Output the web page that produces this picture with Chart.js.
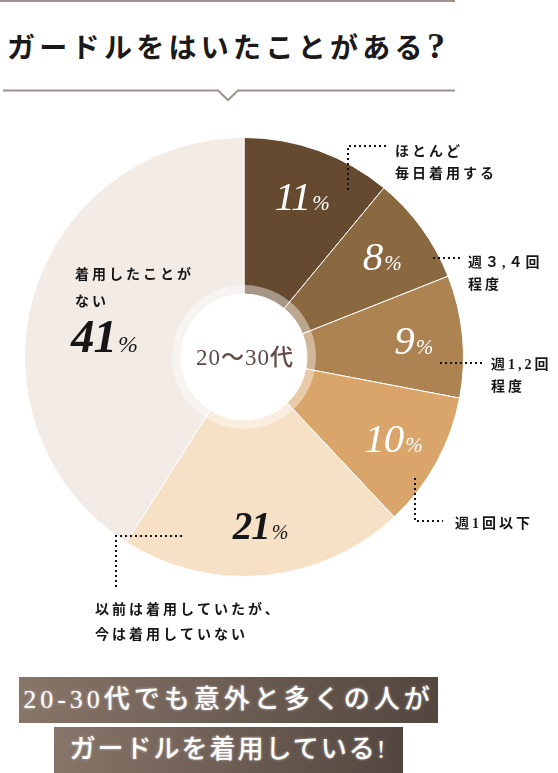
<!DOCTYPE html>
<html lang="ja">
<head>
<meta charset="utf-8">
<script src="https://cdn.jsdelivr.net/npm/chart.js@4"></script>
<style>
  html,body{margin:0;padding:0;background:#fff;}
  body{width:558px;height:773px;position:relative;overflow:hidden;font-family:"Noto Sans CJK JP",sans-serif;}
  #wrap{position:absolute;left:0;top:0;width:558px;height:773px;}
  .title{position:absolute;left:7px;top:27px;font-size:28px;line-height:38px;font-weight:700;letter-spacing:4.3px;color:#1a1a1a;white-space:nowrap;font-family:"Liberation Serif","Noto Sans CJK JP",serif;}
  .title .q{font-size:36px;font-weight:700;letter-spacing:0;}
  .banner{position:absolute;height:46px;background:linear-gradient(to right,#887569,#52463e);color:#fff;font-size:26px;line-height:46px;text-align:center;white-space:nowrap;font-weight:500;font-family:"Liberation Serif","Noto Sans CJK JP",serif;text-shadow:0 0 3px rgba(255,255,255,0.55);}
</style>
</head>
<body>
<svg width="558" height="110" style="position:absolute;left:0;top:0">
  <rect x="0" y="0" width="455" height="2" fill="#9e918e"/>
  <polyline points="3,90.5 218,90.5 228,100 238,90.5 455,90.5" fill="none" stroke="#9e918e" stroke-width="2"/>
</svg>
<div class="title">ガードルをはいたことがある<span class="q">?</span></div>
<div id="wrap"><canvas id="c"></canvas></div>
<div class="banner" style="left:19px;top:677px;width:419px;letter-spacing:4px;">20-30代でも意外と多くの人が</div>
<div class="banner" style="left:54px;top:727px;width:349px;letter-spacing:2px;">ガードルを着用している!</div>
<script>
// ---- data ----
const categories = ['ほとんど毎日着用する','週３,４回程度','週1,2回程度','週1回以下','以前は着用していたが、今は着用していない','着用したことがない'];
const values = [11, 8, 9, 10, 21, 41];
const calloutLines = [
  ['ほとんど','毎日着用する'],
  ['週３,４回','程度'],
  ['週1,2回','程度'],
  ['週1回以下'],
  ['以前は着用していたが、','今は着用していない'],
  ['着用したことが','ない']
];
const centerLabel = '20〜30代';

// ---- styles ----
const sliceColors = ['#654a30','#8a6840','#ae8352','#d9a56b','#f6e1c7','#f2ebe6'];
const pctColors = ['#ffffff','#ffffff','#ffffff','#ffffff','#161616','#161616'];
const pctWeights = ['400','400','400','400','700','700'];
const pctSizes = [41, 41, 41, 41, 39, 47];
// leader lines (polyline points) and text anchor [x, firstLineY] per slice
const leaders = [
  [[348,190],[348,146],[388,146]],
  [[433,258],[462,258]],
  [[440,363],[482,363]],
  [[415,478],[415,521],[443,521]],
  [[182,536],[116,536],[116,587]],
  null
];
const textAnchors = [[395,152],[468,263],[491,365],[455,524],[95,610],[75,275]];

const overlayPlugin = {
  id: 'overlay',
  afterDatasetsDraw(chart) {
    const ctx = chart.ctx;
    const meta = chart.getDatasetMeta(0);
    const a0 = meta.data[0];
    const cx = a0.x, cy = a0.y;
    const inner = a0.innerRadius;
    ctx.save();
    // translucent ring around the hole
    ctx.beginPath();
    ctx.arc(cx, cy, inner + 9, 0, Math.PI * 2);
    ctx.arc(cx, cy, inner, 0, Math.PI * 2, true);
    ctx.fillStyle = 'rgba(255,255,255,0.42)';
    ctx.fill('evenodd');
    // center label
    ctx.fillStyle = '#5f4944';
    ctx.font = '500 23px "Liberation Serif","Noto Sans CJK JP",serif';
    ctx.letterSpacing = '1px';
    ctx.textAlign = 'center';
    ctx.textBaseline = 'middle';
    ctx.fillText(centerLabel, cx + 1, cy + 2);

    // leaders
    ctx.strokeStyle = '#111';
    ctx.lineWidth = 2;
    ctx.setLineDash([2, 3]);
    leaders.forEach(pts => {
      if (!pts) return;
      ctx.beginPath();
      pts.forEach((p, k) => k ? ctx.lineTo(p[0], p[1]) : ctx.moveTo(p[0], p[1]));
      ctx.stroke();
    });
    ctx.setLineDash([]);

    // callout texts
    ctx.fillStyle = '#161616';
    ctx.font = '600 14px "Liberation Serif","Noto Sans CJK JP",serif';
    ctx.letterSpacing = '3px';
    ctx.textAlign = 'left';
    ctx.textBaseline = 'middle';
    calloutLines.forEach((lines, i) => {
      const [tx, ty] = textAnchors[i];
      const gap = i === 5 ? 27 : (i === 4 ? 25 : 22);
      lines.forEach((t, k) => ctx.fillText(t, tx, ty + k * gap));
    });
    ctx.letterSpacing = '0px';

    // percentages
    const drawPct = (i, x, y, size, align) => {
      const num = String(values[i]);
      ctx.fillStyle = pctColors[i];
      ctx.textBaseline = 'alphabetic';
      ctx.textAlign = 'left';
      ctx.letterSpacing = '-1px';
      const numFont = 'italic ' + pctWeights[i] + ' ' + size + 'px "Liberation Serif",serif';
      const pFont = 'italic 400 ' + Math.round(size * 0.5) + 'px "Liberation Serif",serif';
      ctx.font = numFont;
      const wn = ctx.measureText(num).width;
      ctx.font = pFont;
      const wp = ctx.measureText('%').width;
      const startX = align === 'left' ? x : x - (wn + 2 + wp) / 2;
      ctx.font = numFont;
      ctx.fillText(num, startX, y);
      ctx.font = pFont;
      ctx.fillText('%', startX + wn + 2, y);
      ctx.letterSpacing = '0px';
    };
    meta.data.forEach((arc, i) => {
      if (i === 5) {
        drawPct(i, 71, 352, pctSizes[i], 'left');
        return;
      }
      const mid = (arc.startAngle + arc.endAngle) / 2;
      const R = arc.outerRadius * 0.775;
      const x = cx + Math.cos(mid) * R;
      const y = cy + Math.sin(mid) * R + 13;
      drawPct(i, x, y, pctSizes[i], 'center');
    });
    ctx.restore();
  }
};

new Chart(document.getElementById('c'), {
  type: 'doughnut',
  data: {
    labels: categories,
    datasets: [{
      data: values,
      backgroundColor: sliceColors,
      borderColor: '#ffffff',
      borderWidth: 1,
      hoverOffset: 0
    }]
  },
  options: {
    responsive: true,
    maintainAspectRatio: false,
    animation: false,
    cutout: 63,
    layout: { padding: { left: 24, top: 137, right: 94, bottom: 196 } },
    plugins: { legend: { display: false }, tooltip: { enabled: false } },
    events: []
  },
  plugins: [overlayPlugin]
});
</script>
</body>
</html>
